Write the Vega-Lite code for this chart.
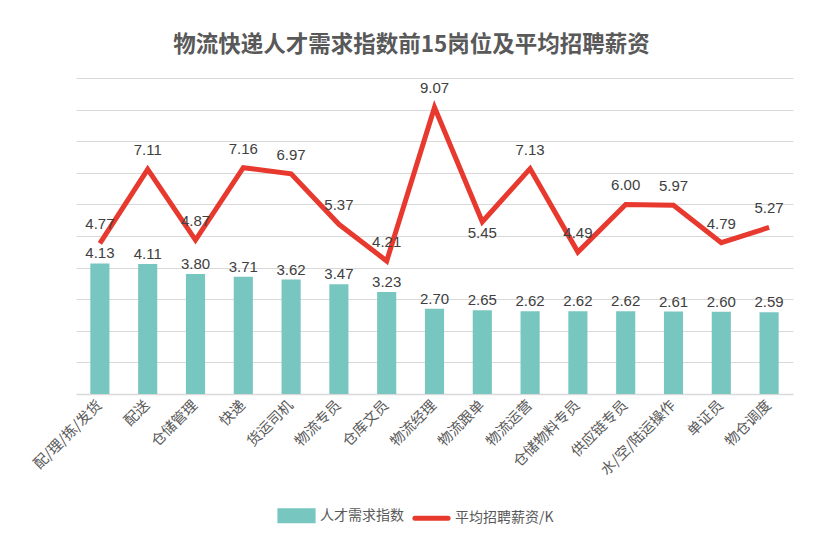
{
  "$schema": "https://vega.github.io/schema/vega-lite/v6.json",
  "autosize": {"type": "none"},
  "padding": {"left": 76, "top": 78, "right": 34, "bottom": 162},
  "width": 717,
  "height": 316,
  "background": "white",
  "title": {
    "text": "物流快递人才需求指数前15岗位及平均招聘薪资",
    "font": "Noto Sans CJK SC",
    "fontSize": 22.5,
    "fontWeight": "bold",
    "color": "#595959",
    "anchor": "middle",
    "dx": -23,
    "offset": 22
  },
  "data": {
    "values": [
      {"name": "配/理/拣/发货", "demand": 4.13, "salary": 4.77},
      {"name": "配送", "demand": 4.11, "salary": 7.11},
      {"name": "仓储管理", "demand": 3.80, "salary": 4.87},
      {"name": "快递", "demand": 3.71, "salary": 7.16},
      {"name": "货运司机", "demand": 3.62, "salary": 6.97},
      {"name": "物流专员", "demand": 3.47, "salary": 5.37},
      {"name": "仓库文员", "demand": 3.23, "salary": 4.21},
      {"name": "物流经理", "demand": 2.70, "salary": 9.07},
      {"name": "物流跟单", "demand": 2.65, "salary": 5.45},
      {"name": "物流运营", "demand": 2.62, "salary": 7.13},
      {"name": "仓储物料专员", "demand": 2.62, "salary": 4.49},
      {"name": "供应链专员", "demand": 2.62, "salary": 6.00},
      {"name": "水/空/陆运操作", "demand": 2.61, "salary": 5.97},
      {"name": "单证员", "demand": 2.60, "salary": 4.79},
      {"name": "物仓调度", "demand": 2.59, "salary": 5.27}
    ]
  },
  "encoding": {
    "x": {
      "field": "name",
      "type": "nominal",
      "sort": null,
      "title": null,
      "scale": {"paddingInner": 0.6, "paddingOuter": 0.3},
      "axis": {
        "labelAngle": -45,
        "labelAlign": "right",
        "labelBaseline": "middle",
        "labelPadding": 9,
        "labelFont": "Noto Sans CJK SC",
        "labelFontSize": 14.5,
        "labelColor": "#595959",
        "ticks": false,
        "domainColor": "#d9d9d9",
        "domainWidth": 1.5,
        "grid": false
      }
    }
  },
  "layer": [
    {
      "mark": {"type": "bar", "color": "#77C6BF"},
      "encoding": {
        "y": {
          "field": "demand",
          "type": "quantitative",
          "scale": {"domain": [0, 10], "nice": false},
          "title": null,
          "axis": {
            "labels": false,
            "ticks": false,
            "domain": false,
            "grid": true,
            "gridColor": "#d9d9d9",
            "gridWidth": 1.2,
            "tickCount": 10,
            "values": [1, 2, 3, 4, 5, 6, 7, 8, 9, 10]
          }
        },
        "color": {
          "datum": "人才需求指数",
          "scale": {
            "domain": ["人才需求指数", "平均招聘薪资/K"],
            "range": ["#77C6BF", "#E8392F"]
          },
          "legend": {
            "title": null,
            "orient": "none",
            "direction": "horizontal",
            "legendX": 201,
            "legendY": 418,
            "labelFont": "Noto Sans CJK SC",
            "labelFontSize": 14,
            "labelColor": "#595959",
            "labelOffset": 4,
            "columnPadding": 0,
            "symbolSize": 1100,
            "symbolStrokeWidth": 5,
            "encode": {
              "symbols": {
                "update": {
                  "shape": {"signal": "datum.value === '人才需求指数' ? 'M-1,-0.3H1V0.3H-1Z' : 'M-1,0H1'"},
                  "fill": {"signal": "datum.value === '人才需求指数' ? '#77C6BF' : 'transparent'"},
                  "stroke": {"signal": "datum.value === '人才需求指数' ? 'transparent' : '#E8392F'"},
                  "strokeWidth": {"value": 5},
                  "strokeCap": {"value": "round"},
                  "opacity": {"value": 1}
                }
              }
            }
          }
        }
      }
    },
    {
      "mark": {
        "type": "text",
        "baseline": "bottom",
        "dy": -2,
        "font": "Liberation Sans",
        "fontSize": 15,
        "color": "#404040"
      },
      "encoding": {
        "y": {"field": "demand", "type": "quantitative"},
        "text": {"field": "demand", "type": "quantitative", "format": ".2f"}
      }
    },
    {
      "mark": {"type": "line", "color": "#E8392F", "strokeWidth": 5},
      "encoding": {
        "y": {"field": "salary", "type": "quantitative"},
        "color": {"datum": "平均招聘薪资/K"}
      }
    },
    {
      "transform": [{"filter": "datum.name !== '物流跟单'"}],
      "mark": {
        "type": "text",
        "baseline": "bottom",
        "dy": -11,
        "font": "Liberation Sans",
        "fontSize": 15,
        "color": "#404040"
      },
      "encoding": {
        "y": {"field": "salary", "type": "quantitative"},
        "text": {"field": "salary", "type": "quantitative", "format": ".2f"}
      }
    },
    {
      "transform": [{"filter": "datum.name === '物流跟单'"}],
      "mark": {
        "type": "text",
        "baseline": "top",
        "dy": 4,
        "font": "Liberation Sans",
        "fontSize": 15,
        "color": "#404040"
      },
      "encoding": {
        "y": {"field": "salary", "type": "quantitative"},
        "text": {"field": "salary", "type": "quantitative", "format": ".2f"}
      }
    }
  ],
  "config": {
    "view": {"stroke": null}
  }
}
